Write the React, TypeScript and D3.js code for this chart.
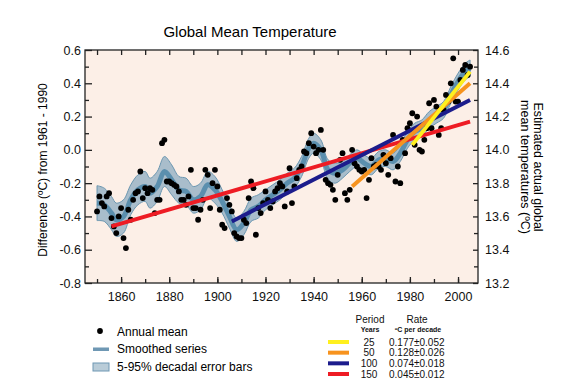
import {useEffect, useRef} from 'react';
import * as d3 from 'd3';

// annual mean anomalies (°C from 1961-1990), one per year from firstYear
const firstYear = 1850;
const annualMean = [
  -0.37, -0.28, -0.32, -0.34, -0.28, -0.26, -0.41, -0.46, -0.50, -0.40, // 1850
  -0.35, -0.53, -0.59, -0.36, -0.42, -0.30, -0.26, -0.25, -0.13, -0.29, // 1860
  -0.23, -0.26, -0.23, -0.24, -0.38, -0.30, -0.30, 0.04, 0.06, -0.19, // 1870
  -0.19, -0.20, -0.21, -0.22, -0.25, -0.30, -0.30, -0.33, -0.28, -0.12, // 1880
  -0.35, -0.35, -0.42, -0.36, -0.30, -0.12, -0.15, -0.35, -0.20, -0.12, // 1890
  -0.22, -0.36, -0.45, -0.47, -0.29, -0.33, -0.37, -0.50, -0.52, -0.53, // 1900
  -0.53, -0.42, -0.44, -0.29, -0.19, -0.23, -0.51, -0.35, -0.38, -0.32, // 1910
  -0.25, -0.30, -0.35, -0.31, -0.25, -0.23, -0.20, -0.22, -0.34, -0.25, // 1920
  -0.11, -0.32, -0.22, -0.17, -0.12, -0.10, -0.01, -0.02, 0.04, 0.10, // 1930
  0.02, -0.02, 0.00, 0.12, 0.00, -0.18, -0.20, -0.21, -0.24, -0.30, // 1940
  -0.15, -0.06, -0.02, -0.26, -0.30, -0.24, 0.00, -0.08, -0.10, -0.12, // 1950
  -0.13, -0.12, -0.29, -0.18, -0.05, -0.10, -0.09, -0.10, -0.12, -0.03, // 1960
  -0.08, -0.15, -0.05, 0.09, -0.19, -0.10, -0.20, 0.06, -0.02, 0.13, // 1970
  0.16, 0.22, 0.03, 0.20, 0.00, -0.01, 0.06, 0.13, 0.28, 0.13, // 1980
  0.30, 0.26, 0.09, 0.13, 0.24, 0.33, 0.29, 0.40, 0.55, 0.29, // 1990
  0.29, 0.42, 0.48, 0.51, 0.45, 0.50 // 2000
];

// smoothed series and 5-95% error half widths
const smoothYears = [1850, 1853, 1856, 1858, 1861, 1864, 1867, 1870, 1872, 1875, 1878, 1881, 1884, 1887, 1890, 1893,
  1896, 1899, 1902, 1905, 1908, 1911, 1914, 1917, 1920, 1923, 1926, 1929, 1932, 1935, 1938, 1940, 1943, 1946, 1949,
  1952, 1955, 1958, 1961, 1964, 1967, 1970, 1973, 1976, 1979, 1982, 1985, 1988, 1991, 1994, 1997, 2000, 2003, 2005];
const smoothValues = [-0.32, -0.33, -0.38, -0.42, -0.40, -0.30, -0.24, -0.22, -0.26, -0.22, -0.13, -0.18, -0.24, -0.25,
  -0.30, -0.28, -0.21, -0.24, -0.31, -0.40, -0.48, -0.44, -0.36, -0.34, -0.30, -0.27, -0.24, -0.20, -0.17, -0.10, 0.01,
  0.04, 0.00, -0.12, -0.14, -0.12, -0.08, -0.05, -0.08, -0.10, -0.06, -0.05, -0.07, -0.02, 0.06, 0.11, 0.13, 0.18, 0.21,
  0.24, 0.33, 0.41, 0.47, 0.49];
const smoothError = [0.105, 0.10, 0.10, 0.10, 0.10, 0.09, 0.09, 0.09, 0.09, 0.09, 0.09, 0.09, 0.08, 0.08, 0.08, 0.08,
  0.08, 0.08, 0.07, 0.07, 0.07, 0.07, 0.07, 0.07, 0.06, 0.06, 0.06, 0.06, 0.06, 0.06, 0.06, 0.06, 0.06, 0.06, 0.06,
  0.05, 0.05, 0.05, 0.05, 0.05, 0.05, 0.05, 0.05, 0.05, 0.05, 0.05, 0.05, 0.05, 0.05, 0.05, 0.05, 0.05, 0.05, 0.05];

// linear trends
const trendPeriods = ['25', '50', '100', '150'];
const trendRates = ['0.177±0.052', '0.128±0.026', '0.074±0.018', '0.045±0.012'];
const trendColors = ['#fff01f', '#f7931e', '#1c1c8c', '#ee1c24'];
const trendStartYears = [1981, 1956, 1906, 1856];
const trendEndYear = 2005;
const trendStartValues = [0.03, -0.22, -0.43, -0.46];
const trendEndValues = [0.47, 0.40, 0.30, 0.17];

const yearTicks = [1860, 1880, 1900, 1920, 1940, 1960, 1980, 2000];
const leftTicks = [-0.8, -0.6, -0.4, -0.2, 0.0, 0.2, 0.4, 0.6];
const rightTicks = [13.2, 13.4, 13.6, 13.8, 14.0, 14.2, 14.4, 14.6];

const font = 'Liberation Sans, Arial, sans-serif';
const plot = {left: 85, right: 478, top: 50, bottom: 283};

export default function App() {
  const ref = useRef(null);
  useEffect(() => {
    if (!ref.current) return;
    const svg = d3.select(ref.current);
    svg.selectAll('*').remove();

    const x = d3.scaleLinear().domain([1845, 2008.3]).range([plot.left, plot.right]);
    const y = d3.scaleLinear().domain([-0.8, 0.6]).range([plot.bottom, plot.top]);
    const yR = d3.scaleLinear().domain([13.2, 14.6]).range([plot.bottom, plot.top]);

    // title
    svg.append('text')
      .attr('x', 250).attr('y', 37)
      .attr('text-anchor', 'middle')
      .style('font', `15px ${font}`)
      .text('Global Mean Temperature');

    // plot background
    svg.append('rect')
      .attr('x', plot.left).attr('y', plot.top)
      .attr('width', plot.right - plot.left).attr('height', plot.bottom - plot.top)
      .attr('fill', '#fcefe7');

    // error band
    const band = smoothYears.map((yr, i) => ({yr, v: smoothValues[i], e: smoothError[i]}));
    const area = d3.area<{yr: number, v: number, e: number}>()
      .x(d => x(d.yr))
      .y0(d => y(d.v - d.e))
      .y1(d => y(d.v + d.e))
      .curve(d3.curveCatmullRom.alpha(0.5));
    svg.append('path')
      .attr('d', area(band))
      .attr('fill', '#a9bdcb')
      .attr('stroke', '#6a96b0')
      .attr('stroke-width', 1);
    // smoothed series
    const line = d3.line<{yr: number, v: number}>()
      .x(d => x(d.yr))
      .y(d => y(d.v))
      .curve(d3.curveCatmullRom.alpha(0.5));
    svg.append('path')
      .attr('d', line(band))
      .attr('fill', 'none')
      .attr('stroke', '#5b8fae')
      .attr('stroke-width', 5);

    // annual means
    svg.append('g')
      .selectAll('circle')
      .data(annualMean)
      .enter()
      .append('circle')
      .attr('cx', (d, i) => x(firstYear + i))
      .attr('cy', d => y(d))
      .attr('r', 2.9)
      .attr('fill', 'black');

    // trend lines, longest first
    for (let i = trendPeriods.length - 1; i >= 0; i--) {
      svg.append('line')
        .attr('x1', x(trendStartYears[i])).attr('y1', y(trendStartValues[i]))
        .attr('x2', x(trendEndYear)).attr('y2', y(trendEndValues[i]))
        .attr('stroke', trendColors[i])
        .attr('stroke-width', 4);
    }

    // frame
    svg.append('rect')
      .attr('x', plot.left).attr('y', plot.top)
      .attr('width', plot.right - plot.left).attr('height', plot.bottom - plot.top)
      .attr('fill', 'none')
      .attr('stroke', '#222')
      .attr('stroke-width', 1.3);

    // axes, ticks inward
    const styleAxis = (g: any, size: string) => {
      g.select('.domain').remove();
      g.selectAll('line').attr('stroke', '#222').attr('stroke-width', 1.3);
      g.selectAll('text').style('font', `${size} ${font}`).attr('fill', '#111');
    };
    const yearMinor = d3.range(1850, 2008, 10);
    const minorLeft = d3.range(-0.7, 0.6, 0.2);
    const minorRight = d3.range(13.3, 14.6, 0.2);

    svg.append('g').attr('transform', `translate(0,${plot.bottom})`)
      .call(d3.axisBottom(x).tickValues(yearTicks).tickFormat(d3.format('d')).tickSize(-6).tickPadding(9))
      .call((g: any) => styleAxis(g, '12.5px'));
    svg.append('g').attr('transform', `translate(0,${plot.bottom})`)
      .call(d3.axisBottom(x).tickValues(yearMinor).tickFormat(() => '').tickSize(-4))
      .call((g: any) => styleAxis(g, '12px'));
    svg.append('g').attr('transform', `translate(0,${plot.top})`)
      .call(d3.axisTop(x).tickValues(yearMinor).tickFormat(() => '').tickSize(-5))
      .call((g: any) => styleAxis(g, '12px'));

    svg.append('g').attr('transform', `translate(${plot.left},0)`)
      .call(d3.axisLeft(y).tickValues(leftTicks).tickFormat(d => (+d).toFixed(1)).tickSize(-7).tickPadding(4))
      .call((g: any) => styleAxis(g, '12.5px'));
    svg.append('g').attr('transform', `translate(${plot.left},0)`)
      .call(d3.axisLeft(y).tickValues(minorLeft).tickFormat(() => '').tickSize(-4))
      .call((g: any) => styleAxis(g, '12px'));

    svg.append('g').attr('transform', `translate(${plot.right},0)`)
      .call(d3.axisRight(yR).tickValues(rightTicks).tickFormat(d => (+d).toFixed(1)).tickSize(-5).tickPadding(7))
      .call((g: any) => styleAxis(g, '12.5px'));
    svg.append('g').attr('transform', `translate(${plot.right},0)`)
      .call(d3.axisRight(yR).tickValues(minorRight).tickFormat(() => '').tickSize(-4))
      .call((g: any) => styleAxis(g, '12px'));

    // axis titles
    svg.append('text')
      .attr('transform', 'translate(43,170) rotate(-90)')
      .attr('text-anchor', 'middle').attr('dy', '0.35em')
      .style('font', `12px ${font}`)
      .text('Difference (ºC) from 1961 - 1990');
    svg.append('text')
      .attr('transform', 'translate(538,167) rotate(90)')
      .attr('text-anchor', 'middle').attr('dy', '0.35em')
      .style('font', `12.5px ${font}`)
      .text('Estimated actual global');
    svg.append('text')
      .attr('transform', 'translate(525,167) rotate(90)')
      .attr('text-anchor', 'middle').attr('dy', '0.35em')
      .style('font', `12.5px ${font}`)
      .text('mean temperatures (ºC)');

    // left legend
    const legL = svg.append('g').style('font', `12px ${font}`);
    legL.append('circle').attr('cx', 100).attr('cy', 331).attr('r', 2.9).attr('fill', 'black');
    legL.append('text').attr('x', 117).attr('y', 332).attr('dy', '0.35em').text('Annual mean');
    legL.append('rect').attr('x', 93).attr('y', 347.5).attr('width', 16).attr('height', 3.5).attr('fill', '#6f98b4');
    legL.append('text').attr('x', 117).attr('y', 349).attr('dy', '0.35em').text('Smoothed series');
    legL.append('rect').attr('x', 93).attr('y', 363).attr('width', 16).attr('height', 8)
      .attr('fill', '#b9ccd8').attr('stroke', '#6f98b4').attr('stroke-width', 1);
    legL.append('text').attr('x', 117).attr('y', 367).attr('dy', '0.35em').text('5-95% decadal error bars');

    // right legend
    const legR = svg.append('g').style('font', `10px ${font}`).attr('fill', '#111');
    legR.append('text').attr('x', 370).attr('y', 319).attr('dy', '0.35em').attr('text-anchor', 'middle').text('Period');
    legR.append('text').attr('x', 417).attr('y', 319).attr('dy', '0.35em').attr('text-anchor', 'middle').text('Rate');
    legR.append('text').attr('x', 370).attr('y', 329.5).attr('dy', '0.35em').attr('text-anchor', 'middle')
      .style('font-size', '7px').style('font-weight', 'bold').text('Years');
    legR.append('text').attr('x', 418).attr('y', 329.5).attr('dy', '0.35em').attr('text-anchor', 'middle')
      .style('font-size', '7px').style('font-weight', 'bold').text('ºC  per decade');
    const rowY = d3.scaleLinear().domain([0, 3]).range([342, 374]);
    trendPeriods.forEach((p, i) => {
      legR.append('line')
        .attr('x1', 328).attr('x2', 349).attr('y1', rowY(i)).attr('y2', rowY(i))
        .attr('stroke', trendColors[i]).attr('stroke-width', 4);
      legR.append('text').attr('x', 369).attr('y', rowY(i)).attr('dy', '0.35em')
        .attr('text-anchor', 'middle').text(p);
      legR.append('text').attr('x', 389).attr('y', rowY(i)).attr('dy', '0.35em').text(trendRates[i]);
    });
  }, [ref]);
  return <svg
    ref={ref}
    width={580}
    height={386}
    style={{position: 'absolute', left: 0, top: 0, background: 'white'}}
  />;
}
